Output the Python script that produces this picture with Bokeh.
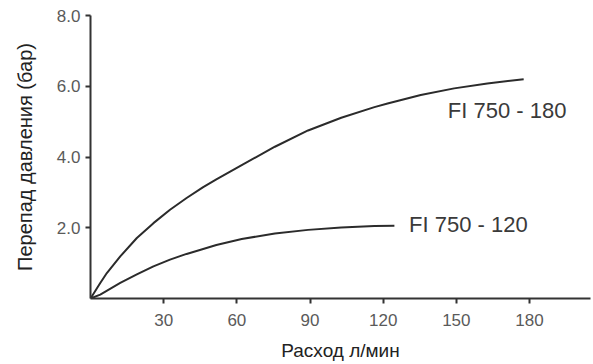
from bokeh.plotting import figure
from bokeh.models import FixedTicker, PrintfTickFormatter, Label, Range1d
from bokeh.embed import file_html
from bokeh.resources import INLINE

# Data (flow l/min -> pressure drop bar)
upper_x = [0, 4.0, 6.7, 12.2, 19.0, 25.8, 32.6, 39.4, 46.2, 51.6, 62.0, 75.6, 89.2,
           102.8, 116.4, 121.8, 135.4, 149.1, 162.7, 177.6]
upper_y = [0, 0.44, 0.72, 1.19, 1.71, 2.13, 2.51, 2.84, 3.15, 3.37, 3.77, 4.29, 4.75,
           5.11, 5.41, 5.51, 5.75, 5.94, 6.08, 6.20]
lower_x = [0, 4.0, 12.2, 19.0, 25.8, 32.6, 39.4, 46.2, 51.6, 62.0, 75.6, 89.2,
           102.8, 116.4, 124.6]
lower_y = [0, 0.11, 0.44, 0.68, 0.91, 1.10, 1.26, 1.40, 1.51, 1.68, 1.84, 1.94,
           2.01, 2.05, 2.06]
upper_name = "FI 750 - 180"
lower_name = "FI 750 - 120"
x_ticks = [30, 60, 90, 120, 150, 180]
y_ticks = [2, 4, 6, 8]
x_title = "Расход л/мин"
y_title = "Перепад давления (бар)"

FONT = "Liberation Sans"
W, H = 593, 364

p = figure(width=W, height=H, output_backend="svg", toolbar_location=None,
           x_range=Range1d(0, 205), y_range=Range1d(0, 8),
           min_border_left=90, min_border_right=3, min_border_top=15, min_border_bottom=66)
p.outline_line_color = None
p.grid.visible = False
p.background_fill_color = "white"
p.border_fill_color = "white"

p.line(upper_x, upper_y, line_color="#2b2b2b", line_width=2, line_join="round")
p.line(lower_x, lower_y, line_color="#2b2b2b", line_width=2, line_join="round")

for ax in (p.xaxis[0], p.yaxis[0]):
    ax.axis_line_color = "#333333"
    ax.axis_line_width = 2
    ax.major_tick_line_color = "#333333"
    ax.major_tick_line_width = 2
    ax.major_tick_out = 5
    ax.major_tick_in = 0
    ax.minor_tick_line_color = None
    ax.major_label_text_font = FONT
    ax.major_label_text_font_size = "17px"
    ax.major_label_text_color = "#5a5a5a"
    ax.axis_label_text_font = FONT
    ax.axis_label_text_font_style = "normal"
    ax.axis_label_text_color = "#222222"

p.xaxis[0].ticker = FixedTicker(ticks=x_ticks)
p.xaxis[0].major_label_standoff = 10
p.xaxis[0].axis_label = x_title
p.xaxis[0].axis_label_text_font_size = "19px"
p.xaxis[0].axis_label_standoff = 11

p.yaxis[0].ticker = FixedTicker(ticks=y_ticks)
p.yaxis[0].formatter = PrintfTickFormatter(format="%.1f")
p.yaxis[0].major_label_standoff = 5
p.yaxis[0].axis_label = y_title
p.yaxis[0].axis_label_text_font_size = "20px"
p.yaxis[0].axis_label_standoff = 18

# curve labels
p.add_layout(Label(x=146.5, y=5.32, text=upper_name, text_font=FONT, text_font_size="22px",
                   text_color="#3a3a3a", text_align="left", text_baseline="middle"))
p.add_layout(Label(x=130.6, y=2.08, text=lower_name, text_font=FONT, text_font_size="22px",
                   text_color="#3a3a3a", text_align="left", text_baseline="middle"))

open("out.html", "w").write(file_html(p, INLINE))
